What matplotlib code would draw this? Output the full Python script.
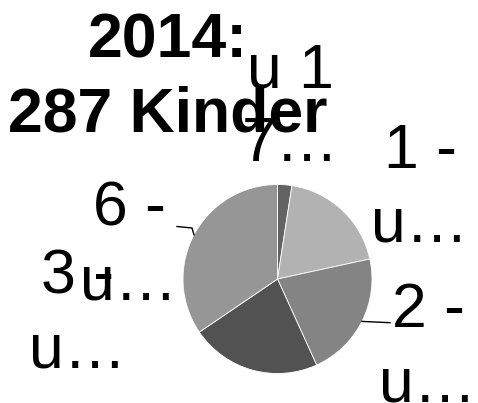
import numpy as np
import matplotlib
matplotlib.use("Agg")
import matplotlib.pyplot as plt

# ---- data ----
categories = ["u 1\n7…", "1 -\nu…", "2 -\nu…", "3 -\nu…", "6 -\nu…"]
counts = [7, 55, 62, 64, 99]
colors = ["#636363", "#b2b2b2", "#848484", "#525252", "#969696"]
title_lines = ["2014:", "287 Kinder"]

# ---- layout (pixels) ----
W, H = 478, 403
cx, cy, r = 277.5, 279.0, 94.5
label_pos = [(290, 87), (420, 168), (428, 327), (78, 293), (129, 225)]
line_gap = 74
leader_ends = {2: [(390, 322.7)], 4: [(192, 228), (177, 226.5)]}
FS = 45
FONT = "Liberation Sans"

fig = plt.figure(figsize=(W / 100, H / 100), dpi=100)
ax = fig.add_axes([(cx - r) / W, (H - cy - r) / H, 2 * r / W, 2 * r / H])
wedges, _ = ax.pie(counts, colors=colors, startangle=90, counterclock=False,
                   radius=1, wedgeprops=dict(edgecolor="white", linewidth=0.6))
ax.set_xlim(-1, 1)
ax.set_ylim(-1, 1)
ax.set_aspect("auto")
ax.axis("off")

ov = fig.add_axes([0, 0, 1, 1], zorder=5)
ov.set_xlim(0, W)
ov.set_ylim(H, 0)
ov.axis("off")
ov.patch.set_alpha(0)

# title
for i, t in enumerate(title_lines):
    ov.text(168, 58 + i * 73, t, ha="center", va="baseline", fontsize=FS,
            fontweight="bold", family=FONT, color="black")

# labels
for i, (lab, (lx, ly)) in enumerate(zip(categories, label_pos)):
    for j, line in enumerate(lab.split("\n")):
        ov.text(lx, ly + j * line_gap, line, ha="center", va="baseline",
                fontsize=FS, family=FONT, color="black")
    if i in leader_ends:
        w = wedges[i]
        mid = np.deg2rad((w.theta1 + w.theta2) / 2)
        ex, ey = cx + r * np.cos(mid), cy - r * np.sin(mid)
        pts = [(ex, ey)] + leader_ends[i]
        ov.plot([p[0] for p in pts], [p[1] for p in pts], color="black", lw=1)

fig.savefig("out.png", dpi=100)
